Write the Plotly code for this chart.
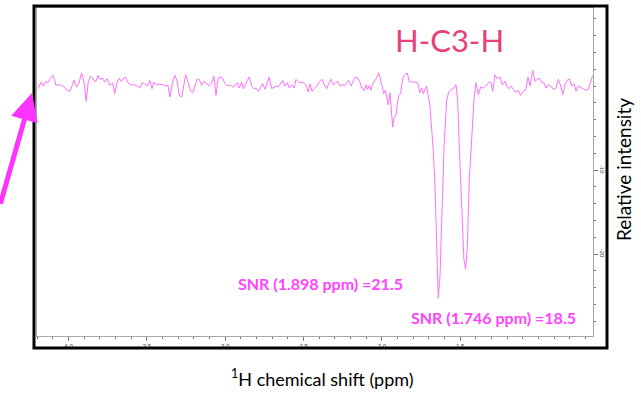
import plotly.graph_objects as go

# chemical shift (ppm) and relative intensity
ppm = [4.196, 4.175, 4.162, 4.147, 4.132, 4.115, 4.098, 4.081, 4.051, 4.030, 4.009, 3.992, 3.977,
       3.966, 3.949, 3.934, 3.917, 3.902, 3.888, 3.875, 3.860, 3.843, 3.828, 3.813, 3.800, 3.785,
       3.770, 3.754, 3.736, 3.719, 3.706, 3.693, 3.679, 3.664, 3.651, 3.636, 3.621, 3.604, 3.583,
       3.562, 3.545, 3.530, 3.515, 3.498, 3.481, 3.468, 3.455, 3.441, 3.423, 3.402, 3.381, 3.366,
       3.353, 3.336, 3.321, 3.306, 3.294, 3.278, 3.268, 3.253, 3.236, 3.221, 3.208, 3.193, 3.179,
       3.166, 3.151, 3.136, 3.119, 3.102, 3.085, 3.072, 3.059, 3.045, 3.029, 3.017, 3.002, 2.987,
       2.970, 2.953, 2.938, 2.923, 2.911, 2.895, 2.885, 2.872, 2.859, 2.847, 2.831, 2.817, 2.804,
       2.789, 2.774, 2.761, 2.746, 2.732, 2.719, 2.704, 2.689, 2.676, 2.662, 2.646, 2.633, 2.619,
       2.604, 2.591, 2.576, 2.561, 2.548, 2.534, 2.518, 2.502, 2.485, 2.470, 2.459, 2.446, 2.432,
       2.416, 2.400, 2.382, 2.368, 2.352, 2.340, 2.325, 2.310, 2.293, 2.282, 2.267, 2.255, 2.237,
       2.225, 2.212, 2.197, 2.183, 2.170, 2.154, 2.140, 2.127, 2.112, 2.101, 2.091, 2.080, 2.070,
       2.059, 2.044, 2.033, 2.020, 2.012, 1.999, 1.988, 1.978, 1.967, 1.959, 1.948, 1.940, 1.931,
       1.923, 1.910, 1.902, 1.893, 1.880, 1.867, 1.854, 1.838, 1.825, 1.799, 1.771, 1.757, 1.746,
       1.736, 1.723, 1.714, 1.706, 1.693, 1.684, 1.672, 1.661, 1.650, 1.640, 1.629, 1.618, 1.603,
       1.586, 1.573, 1.565, 1.544, 1.527, 1.516, 1.506, 1.490, 1.476, 1.465, 1.454, 1.442, 1.426,
       1.412, 1.399, 1.384, 1.369, 1.352, 1.337, 1.320, 1.305, 1.292, 1.278, 1.263, 1.246, 1.231,
       1.214, 1.203, 1.188, 1.175, 1.161, 1.144, 1.129, 1.114, 1.097, 1.080, 1.067, 1.054, 1.037,
       1.022, 1.008, 0.995, 0.979, 0.965, 0.952, 0.937, 0.922, 0.905, 0.888, 0.873, 0.858, 0.845,
       0.831, 0.816, 0.803, 0.788, 0.773, 0.760, 0.746, 0.730, 0.714, 0.697, 0.682, 0.667, 0.654]

intensity = [-0.32, 0.48, 0.00, 0.56, 0.39, 0.95, 1.27, 0.08, 0.15, -0.12, -0.51, -0.63, 0.08,
             0.68, -0.12, 0.39, 1.55, 0.48, -1.82, 0.48, 1.19, 0.87, 0.48, 1.27, 0.80, 0.95,
             0.48, 0.87, 0.08, 0.39, -0.92, 0.27, 0.95, 0.56, 0.87, 1.07, 0.39, 0.15, 0.15,
             0.00, -0.24, 0.39, 0.27, 0.00, 0.68, -0.32, 0.48, 0.15, 0.24, 0.15, 0.00, 0.08,
             -1.31, 0.48, 1.27, 0.48, -1.11, -1.31, -0.12, 1.34, 0.39, -0.63, -0.80, 0.00, 0.80,
             0.80, 0.08, 0.56, 0.27, 0.00, 0.48, 1.19, -1.11, 0.95, 1.07, 0.95, 0.27, 0.00,
             0.15, -0.12, 0.08, 0.39, -0.24, 0.48, -0.32, 0.27, 0.68, 1.07, 0.00, -0.32, -0.24,
             -0.63, -0.12, 0.27, -0.39, 0.48, 1.07, -0.32, -0.12, 0.00, -0.12, 0.27, 0.68, 0.00,
             0.39, -0.24, 0.15, -0.24, 0.80, 0.48, 0.39, 0.39, 0.15, -0.71, 0.27, -0.63, -0.32,
             0.00, 0.48, 0.80, 0.15, -0.32, 0.27, 0.80, 0.15, 0.39, 0.56, 0.00, 0.15, 0.08,
             0.39, 0.68, 0.00, 0.68, 1.07, 0.95, 0.48, -0.32, -0.51, 0.15, -0.39, 0.08, -0.51,
             0.27, 0.68, 0.95, 1.58, 1.07, 0.08, -0.92, -0.51, -1.43, -2.23, -0.80, -3.09, -4.88,
             -3.81, -3.57, -2.30, -1.11, -0.92, 0.95, 1.34, 1.55, 0.48, 0.48, 0.39, -0.80, -0.24,
             -0.92, -0.32, 0.00, -0.92, -2.30, -4.64, -7.62, -11.78, -19.12, -25.26, -22.69, -15.11, -7.22,
             -1.67, -0.71, -0.51, -0.32, 0.18, -1.67, -7.22, -15.11, -20.71, -21.81, -19.12, -11.19, -5.24,
             -1.67, 0.39, -1.04, -0.12, -0.24, 0.00, 0.39, 0.48, -0.63, 1.34, 0.87, 1.07, 0.15,
             0.56, 0.00, -0.32, 0.00, -0.39, -0.71, -0.51, -1.11, -0.63, -0.39, 1.07, 0.00, 1.87,
             0.56, 0.80, 0.95, 0.39, 0.39, -0.24, 0.15, 0.00, -0.39, -0.24, 0.80, 0.00, -1.04,
             0.15, 0.68, 0.87, 0.00, 0.27, -0.63, 0.00, -0.12, -0.32, -0.51, -0.39, 0.48, 1.27]

x_tickvals = [4.0, 3.5, 3.0, 2.5, 2.0, 1.5]
x_ticktext = ["4.0", "3.5", "3.0", "2.5", "2.0", "1.5"]
y_tickvals = [-10, -20]
y_ticktext = ["-10", "-20"]

title_text = "H-C3-H"
snr_labels = ["SNR (1.898 ppm) =21.5", "SNR (1.746 ppm) =18.5"]
x_title = "<sup>1</sup>H chemical shift (ppm)"
y_title = "Relative intensity"

FONT = "Lato, Carlito, Calibri, sans-serif"
MAGENTA = "#ff44ff"

fig = go.Figure()
fig.add_trace(go.Scatter(x=ppm, y=intensity, mode="lines",
                         line=dict(color="#ff70ff", width=1), hoverinfo="skip"))

fig.update_layout(
    width=641, height=394,
    margin=dict(l=37, r=48, t=8, b=58),
    paper_bgcolor="white", plot_bgcolor="white",
    showlegend=False,
    font=dict(family=FONT, color="black"),
    xaxis=dict(range=[4.202, 0.652], showgrid=False, zeroline=False,
               showline=True, linecolor="#a8a8a8", linewidth=1, mirror=True,
               tickvals=x_tickvals, ticktext=x_ticktext, ticks="outside",
               ticklen=4, tickcolor="#777777", tickwidth=1,
               tickfont=dict(size=6, color="#444444", family="Arial"),
               minor=dict(dtick=0.1, tick0=0, ticks="outside", ticklen=2,
                          tickcolor="#777777", showgrid=False)),
    yaxis=dict(range=[-29.76, 9.29], side="right", showgrid=False, zeroline=False,
               showline=True, linecolor="#a8a8a8", linewidth=1, mirror=True,
               tickvals=y_tickvals, ticktext=y_ticktext, ticks="outside",
               ticklen=4, tickcolor="#777777", tickangle=90,
               tickfont=dict(size=6, color="#444444", family="Arial"),
               minor=dict(dtick=2, tick0=0, ticks="outside", ticklen=2,
                          tickcolor="#777777", showgrid=False)),
)

# black picture frame
fig.add_shape(type="rect", xref="paper", yref="paper",
              x0=-3/556, x1=570/556, y0=-12/328, y1=330/328,
              line=dict(color="black", width=3), fillcolor="rgba(0,0,0,0)")

anns = [
    dict(text=title_text, x=0.742, y=0.903, font=dict(size=31, color="#e8407c", family=FONT)),
    dict(text="<b>%s</b>" % snr_labels[0], x=0.509, y=0.159, font=dict(size=16, color=MAGENTA, family=FONT)),
    dict(text="<b>%s</b>" % snr_labels[1], x=0.821, y=0.055, font=dict(size=16, color=MAGENTA, family=FONT)),
    dict(text=y_title, x=1.054, y=0.506, textangle=-90, font=dict(size=19, color="black", family=FONT)),
    dict(text=x_title, x=0.5126, y=-0.128, font=dict(size=18, color="black", family=FONT)),
]
for a in anns:
    fig.add_annotation(xref="paper", yref="paper", xanchor="center", yanchor="middle",
                       showarrow=False, **a)

# magenta pointer arrow on the left
fig.add_annotation(xref="paper", yref="paper", x=-5/556, y=243/328, text="",
                   showarrow=True, axref="pixel", ayref="pixel", ax=-37, ay=112,
                   arrowcolor="#ff33ff", arrowwidth=5, arrowhead=2, arrowsize=1.1)

fig.write_html("out.html")
